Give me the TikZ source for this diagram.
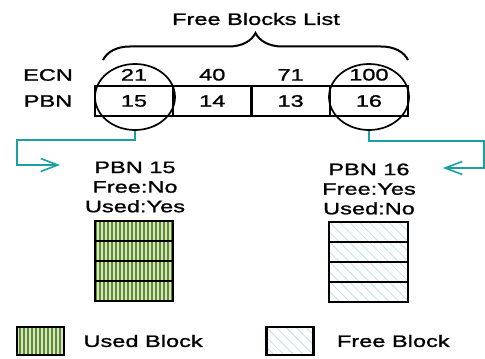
\documentclass[tikz,border=0pt]{standalone}
\usepackage{fontspec}
\setmainfont{Liberation Sans}[FakeStretch=1.42,FakeBold=1.2]
\usetikzlibrary{positioning,shapes.geometric,arrows.meta,decorations.pathreplacing,patterns.meta}
\definecolor{linkteal}{RGB}{26,160,160}
\definecolor{usedgreen}{RGB}{96,140,48}
\definecolor{usedpale}{RGB}{214,228,196}
\definecolor{freecyan}{RGB}{185,225,230}
\tikzset{
  txt/.style={font=\fontsize{8.3}{9.8}\selectfont, inner sep=0pt},
  cell/.style={draw, line width=1.1pt, minimum width=39.15pt, minimum height=15pt,
    inner sep=0pt, outer sep=0pt, font=\fontsize{8.3}{9.8}\selectfont},
  ring/.style={draw, ellipse, line width=0.85pt, minimum width=40pt, minimum height=33pt, inner sep=0pt},
  link/.style={linkteal, line width=0.8pt, -{Straight Barb[length=8.5pt,width=6.5pt]}},
  usedfill/.style={preaction={fill=usedpale}, pattern={Lines[angle=90,distance=2pt,line width=1.1pt]}, pattern color=usedgreen},
  freefill/.style={pattern={Lines[angle=-45,distance=3.5pt,line width=0.4pt]}, pattern color=freecyan},
  keybox/.style={draw, line width=1.1pt, minimum width=23.5pt, minimum height=14pt, inner sep=0pt},
}
\begin{document}
\begin{tikzpicture}[x=0.5pt,y=-0.5pt]
    \useasboundingbox (0,0) rectangle (485,358);
    % Free list table
    \node [cell] (p15) at (134,101) {15};
    \node [cell, right=0pt of p15] (p14) {14};
    \node [cell, right=0pt of p14] (p13) {13};
    \node [cell, right=0pt of p13] (p16) {16};
    \node [txt, above=2.5pt of p15] (e21) {21};
    \node [txt, above=2.5pt of p14] (e40) {40};
    \node [txt, above=2.5pt of p13] (e71) {71};
    \node [txt, above=2.5pt of p16] (e100) {100};
    \node [txt] (ecn) at (48,75) {ECN};
    \node [txt] (pbn) at (48,101) {PBN};
    % Brace and title
    \coordinate (bl) at (103,60);
    \coordinate (br) at (408,60);
    \draw [line width=1pt, decorate, decoration={brace, amplitude=13.5pt}] (bl) -- (br);
    \node [txt] (title) at (256,19) {Free Blocks List};
    % Selected entries
    \node [ring] (c15) at (135,97) {};
    \node [ring] (c16) at (369,97) {};
    \node [txt, align=center] (info15) at (135,187) {PBN 15\\Free:No\\Used:Yes};
    \node [txt, align=center] (info16) at (369,189) {PBN 16\\Free:Yes\\Used:No};
    \coordinate (tip15) at (60,165);
    \coordinate (tip16) at (443,168);
    \draw [link] (c15.south) |- (17,140) |- (tip15);
    \draw [link] (c16.south) |- (484,141) |- (tip16);
    % Block stacks
    \foreach \r in {0,...,3} {
        \draw [line width=1.1pt, usedfill] (95,221+20*\r) rectangle ++(78,20);
        \draw [line width=1.1pt, freefill] (329,222+20*\r) rectangle ++(79,20);
    }
    % Legend
    \node [keybox, usedfill] (usedkey) at (40.5,341) {};
    \node [txt, right=9pt of usedkey] (usedtxt) {Used Block};
    \node [keybox, freefill] (freekey) at (290,341) {};
    \node [txt, right=11pt of freekey] (freetxt) {Free Block};
\end{tikzpicture}
\end{document}
